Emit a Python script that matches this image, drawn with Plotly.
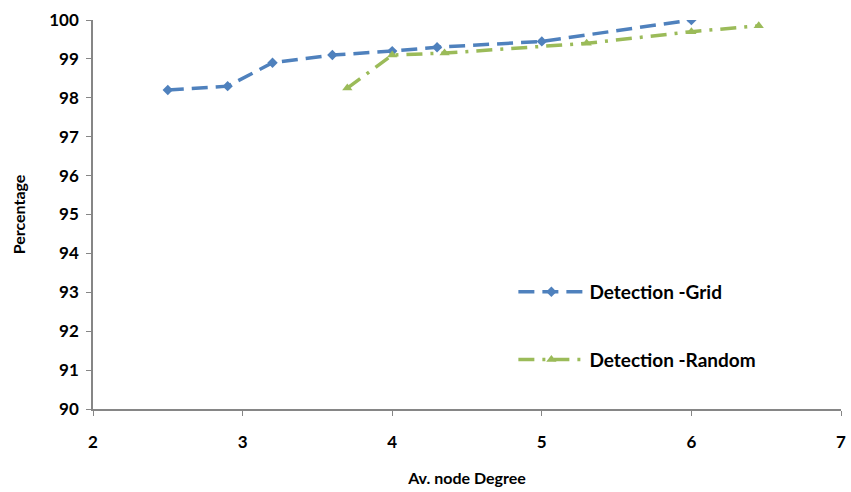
import plotly.graph_objects as go

# Detection rate vs. average node degree
grid_degree = [2.5, 2.9, 3.2, 3.6, 4.0, 4.3, 5.0, 6.0]
grid_pct = [98.2, 98.3, 98.9, 99.1, 99.2, 99.3, 99.45, 100.0]

random_degree = [3.7, 4.0, 4.35, 5.3, 6.0, 6.45]
random_pct = [98.25, 99.1, 99.15, 99.4, 99.7, 99.85]

x_ticks = [2, 3, 4, 5, 6, 7]
y_ticks = list(range(90, 101))

font_family = "Lato, 'Open Sans', sans-serif"

fig = go.Figure()
fig.add_trace(go.Scatter(
    x=grid_degree, y=grid_pct, mode="lines+markers", name="Detection -Grid",
    legendgroup="g1",
    line=dict(color="#4F81BD", width=3.5, dash="16px,8px"),
    marker=dict(symbol="diamond", size=8, color="#4F81BD"),
))
fig.add_trace(go.Scatter(
    x=random_degree, y=random_pct, mode="lines+markers", name="Detection -Random",
    legendgroup="g2",
    line=dict(color="#9BBB59", width=3.5, dash="16px,8px,3px,8px"),
    marker=dict(symbol="triangle-up", size=9, color="#9BBB59"),
))

axis_common = dict(
    showgrid=False, zeroline=False, showline=True, linecolor="#868686", linewidth=1.5,
    ticks="outside", ticklen=5, tickcolor="#868686", automargin=False,
    tickfont=dict(family=font_family, size=17, color="#000000", weight="bold"),
)

fig.update_layout(
    width=851, height=492,
    margin=dict(l=93, r=10, t=20, b=83),
    plot_bgcolor="white", paper_bgcolor="white",
    font=dict(family=font_family, color="#000000"),
    xaxis=dict(range=[2, 7], tickvals=x_ticks, ticklabelstandoff=12,
               title=dict(text="Av. node Degree", standoff=22,
                          font=dict(family=font_family, size=16, weight="bold")),
               **axis_common),
    yaxis=dict(range=[90, 100], tickvals=y_ticks, ticklabelstandoff=4,
               title=dict(text="Percentage", standoff=20,
                          font=dict(family=font_family, size=16, weight="bold")),
               **axis_common),
    legend=dict(x=0.562, y=0.35, xanchor="left", yanchor="top",
                bgcolor="rgba(0,0,0,0)", tracegroupgap=40, itemwidth=66,
                font=dict(family=font_family, size=19, color="#000000", weight="bold")),
)

fig.write_html("out.html")
